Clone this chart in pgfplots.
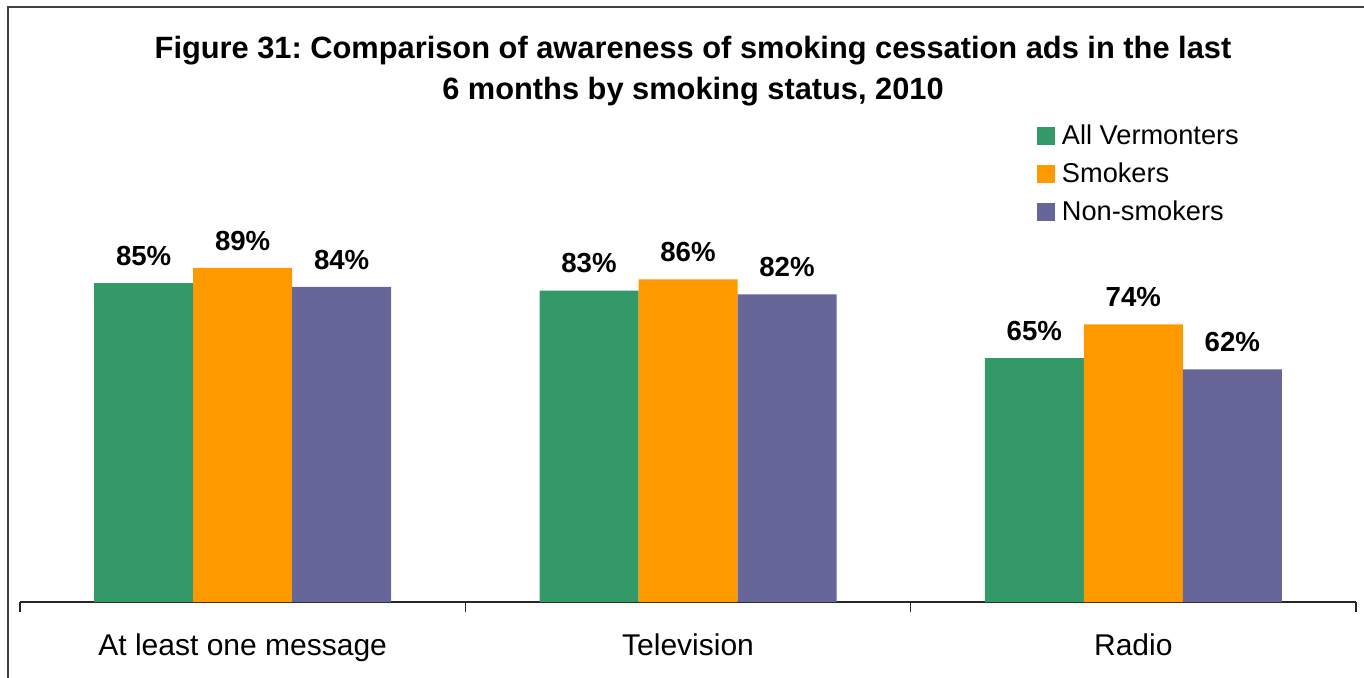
\documentclass[border=0pt]{standalone}
\usepackage{pgfplots}
\pgfplotsset{compat=1.18}
\usepackage{fontspec}
\setmainfont{Liberation Sans}
\definecolor{cgreen}{HTML}{339966}
\definecolor{corange}{HTML}{FF9900}
\definecolor{cpurple}{HTML}{666699}
\frenchspacing
\begin{document}
\begin{tikzpicture}
\useasboundingbox (0,0) rectangle (682pt,338.5pt);
\draw[line width=1pt, black!75] (4pt,-10pt) -- (4pt,335pt) -- (700pt,335pt);
\node[anchor=base, font=\fontsize{15.4}{18}\selectfont\bfseries] at (346.5pt,309.5pt) {Figure 31: Comparison of awareness of smoking cessation ads in the last};
\node[anchor=base, font=\fontsize{15.4}{18}\selectfont\bfseries] at (346.5pt,289pt) {6 months by smoking status, 2010};
\begin{axis}[
  at={(10pt,37.5pt)}, anchor=south west,
  scale only axis, width=668pt, height=187.65pt,
  ymin=0, ymax=100, xmin=-0.5, xmax=2.5,
  ybar=0pt, bar width=49.5pt,
  axis x line*=bottom, axis y line=none,
  x axis line style={line width=0.8pt, black!85},
  xtick={0,1,2},
  xticklabels={At least one message, Television, Radio},
  major tick length=0pt,
  minor xtick={-0.5,0.5,1.5,2.5},
  minor tick length=5pt,
  tick align=outside,
  minor tick style={line width=0.8pt, black!85},
  xticklabel style={font=\fontsize{15}{18}\selectfont, anchor=base, yshift=-26.5pt},
  /pgf/number format/assume math mode=true,
  nodes near coords={\pgfmathprintnumber{\pgfplotspointmeta}\%},
  every node near coord/.append style={font=\fontsize{13.8}{16}\selectfont\bfseries, anchor=south, inner sep=0pt, yshift=8.5pt},
  legend style={at={(axis description cs:0.7612,1.282)}, anchor=north west, draw=none, fill=none,
    inner sep=0pt, outer sep=0pt, font=\fontsize{13.6}{16}\selectfont, row sep=3.7pt},
  legend cell align=left,
  legend image code/.code={\draw[#1,draw=none] (0pt,-4.5pt) rectangle (9pt,4.5pt); \path (10.5pt,0pt);},
]
\addplot[fill=cgreen, draw=none] coordinates {(0,85) (1,83) (2,65)};
\addplot[fill=corange, draw=none] coordinates {(0,89) (1,86) (2,74)};
\addplot[fill=cpurple, draw=none] coordinates {(0,84) (1,82) (2,62)};
\legend{All Vermonters, Smokers, Non-smokers}
\end{axis}
\end{tikzpicture}
\end{document}
